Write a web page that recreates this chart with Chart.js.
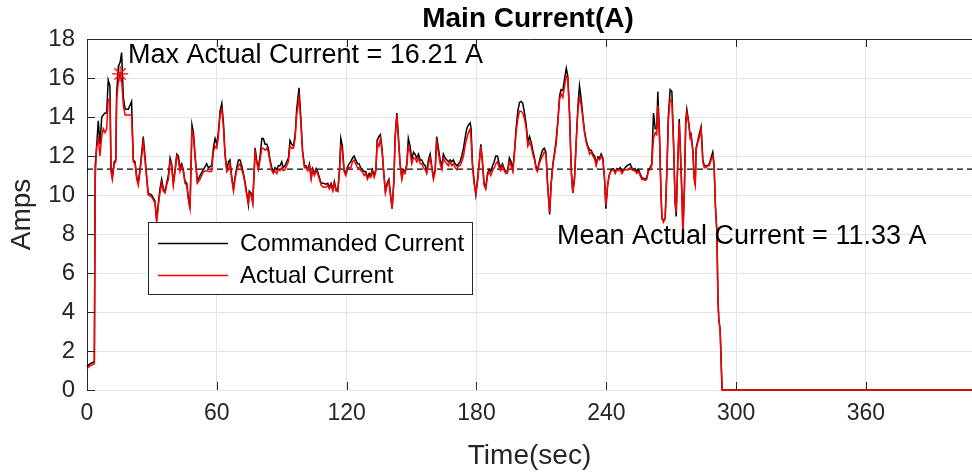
<!DOCTYPE html>
<html>
<head>
<meta charset="utf-8">
<script src="https://cdn.jsdelivr.net/npm/chart.js@4.4.1/dist/chart.umd.min.js"></script>
<style>
  html, body { margin: 0; padding: 0; background: #fff; }
  #wrap { width: 972px; height: 473px; }
</style>
</head>
<body>
<div id="wrap"><canvas id="grafico" width="972" height="473"></canvas></div>
<script>
// time in seconds
const tempo = [
  0, 1.5, 3.4, 3.8, 4.4, 5.2, 6.0, 6.8, 7.5, 8.3, 9.1, 9.8, 10.6, 11.1, 11.7, 12.6, 13.3, 13.7, 14.5, 15.3,
  16.0, 16.8, 17.6, 19.1, 20.6, 21.4, 22.2, 23.0, 23.7, 24.5, 25.3, 26.0, 26.8, 27.6, 28.3, 29.9, 31.4, 32.2, 33.0, 33.7,
  34.5, 35.3, 36.1, 36.8, 37.6, 38.4, 39.1, 39.9, 40.7, 41.5, 42.2, 43.0, 43.8, 44.5, 45.3, 46.1, 46.8, 47.6, 48.5, 49.2,
  49.9, 51.0, 52.2, 53.8, 55.3, 56.1, 57.6, 58.4, 59.2, 60.0, 60.7, 61.5, 62.3, 63.1, 63.8, 64.6, 65.4, 66.1, 66.9, 67.7,
  68.4, 69.2, 70.0, 70.7, 71.5, 72.3, 73.0, 73.8, 74.6, 75.0, 75.8, 76.6, 77.7, 78.4, 79.2, 80.0, 80.8, 81.5, 82.3, 83.1,
  83.8, 84.6, 85.4, 86.1, 86.9, 87.7, 88.4, 89.2, 90.0, 90.7, 91.5, 92.3, 93.1, 93.8, 94.6, 95.4, 96.2, 96.9, 98.0, 98.9,
  99.6, 100.5, 101.2, 102.0, 102.8, 103.6, 104.3, 105.1, 105.9, 106.6, 107.4, 108.2, 109.3, 110.4, 111.3, 112.0, 112.8, 113.6, 114.3, 115.1,
  115.9, 116.7, 117.3, 118.0, 118.8, 119.6, 120.3, 121.1, 121.9, 122.7, 123.4, 124.2, 125.0, 125.7, 126.5, 127.3, 128.1, 128.8, 129.6, 130.4,
  131.1, 131.9, 132.7, 133.5, 134.1, 134.9, 135.6, 136.4, 137.2, 137.9, 138.7, 139.5, 140.2, 141.0, 141.8, 142.4, 143.2, 143.9, 144.7, 145.5,
  146.2, 147.0, 147.8, 148.5, 149.3, 150.1, 150.9, 151.6, 152.4, 153.2, 154.0, 154.7, 155.5, 156.3, 157.0, 157.8, 158.6, 159.3, 160.1, 160.9,
  161.6, 162.4, 163.2, 164.0, 164.7, 165.5, 166.3, 167.0, 167.8, 168.6, 169.3, 170.1, 170.9, 171.7, 172.4, 173.2, 174.0, 174.7, 175.5, 176.3,
  177.1, 177.5, 178.1, 178.9, 179.7, 180.4, 181.2, 182.0, 182.7, 183.5, 184.3, 185.1, 185.8, 186.6, 187.4, 188.2, 188.9, 189.7, 190.5, 191.2,
  192.0, 192.8, 193.6, 194.3, 195.2, 196.0, 196.8, 197.6, 198.3, 199.1, 199.9, 200.6, 201.4, 202.2, 203.0, 203.7, 204.5, 205.3, 206.0, 206.8,
  207.6, 208.2, 209.0, 209.7, 210.5, 211.3, 212.1, 212.8, 213.8, 214.5, 215.3, 216.1, 216.8, 217.6, 218.4, 219.1, 219.9, 220.7, 221.5, 222.2,
  223.0, 223.8, 224.5, 225.3, 226.1, 226.9, 227.6, 228.4, 229.2, 229.9, 230.7, 231.5, 232.3, 233.0, 233.8, 234.6, 235.3, 236.1, 236.9, 237.6,
  238.4, 239.2, 239.8, 240.6, 241.3, 242.3, 243.3, 244.1, 244.9, 245.6, 246.4, 247.2, 248.0, 248.7, 249.5, 250.3, 251.0, 251.8, 252.6, 253.3,
  254.1, 254.9, 255.6, 256.4, 257.2, 258.0, 258.7, 259.5, 260.3, 261.0, 261.8, 262.6, 263.3, 263.8, 264.6, 265.2, 265.7, 266.4, 267.2, 268.0,
  268.7, 269.5, 270.3, 271.1, 271.8, 272.3, 272.9, 273.7, 274.3, 275.0, 275.4, 276.1, 276.7, 277.2, 278.0, 278.8, 279.2, 280.0, 280.6, 281.1,
  281.5, 282.3, 283.1, 283.8, 284.6, 285.3, 286.1, 286.9, 287.6, 288.4, 289.2, 289.8, 290.4, 291.1, 291.6, 292.0, 292.6, 293.2, 293.5, 409
];

// actual current (red)
const corrente = [
  1.1, 1.25, 1.35, 10.8, 12.4, 12.9, 12.0, 13.0, 13.4, 13.2, 13.4, 14.9, 14.9, 11.2, 10.8, 11.6, 11.7, 14.9, 15.8, 16.21,
  15.9, 14.6, 14.1, 14.1, 14.1, 11.7, 11.6, 10.8, 10.5, 11.2, 12.0, 12.7, 11.8, 10.8, 10.0, 9.9, 9.6, 8.6, 9.5, 10.1,
  10.6, 10.2, 10.1, 10.5, 10.8, 11.7, 11.5, 10.5, 11.2, 12.0, 11.8, 11.2, 11.5, 11.2, 10.6, 10.5, 9.8, 9.3, 13.3, 13.0,
  12.0, 10.6, 10.8, 11.2, 11.25, 11.2, 11.2, 12.2, 12.5, 12.4, 13.0, 14.1, 14.4, 13.4, 12.0, 11.2, 11.3, 11.6, 10.8, 10.2,
  10.8, 11.25, 11.5, 11.6, 11.3, 11.0, 10.6, 10.0, 9.6, 10.1, 10.0, 9.6, 12.2, 11.7, 11.3, 11.8, 12.4, 12.4, 12.3, 12.4,
  12.2, 11.7, 11.25, 11.1, 11.25, 11.1, 11.3, 11.25, 11.4, 11.25, 11.3, 11.5, 11.7, 12.5, 12.4, 12.4, 12.9, 14.1, 15.0, 13.6,
  12.2, 11.4, 11.4, 11.25, 11.5, 10.8, 11.25, 11.0, 11.25, 11.1, 10.8, 10.5, 10.4, 10.4, 10.5, 10.3, 10.5, 10.2, 10.6, 10.2,
  10.2, 11.2, 12.5, 12.3, 11.2, 11.0, 11.25, 11.4, 11.4, 11.7, 11.8, 11.6, 11.4, 11.4, 11.25, 11.2, 11.0, 11.1, 10.8, 11.0,
  10.9, 11.2, 10.9, 11.2, 12.7, 12.5, 12.9, 12.2, 11.0, 10.1, 10.5, 10.7, 10.05, 9.3, 10.6, 12.9, 14.1, 12.9, 11.5, 10.8,
  11.2, 11.1, 11.5, 12.5, 12.2, 11.6, 11.9, 11.9, 11.7, 11.9, 11.6, 11.6, 11.4, 11.3, 11.1, 11.6, 11.9, 11.4, 10.8, 11.2,
  12.7, 12.2, 11.6, 11.3, 11.9, 11.7, 11.6, 11.5, 11.7, 11.5, 11.6, 11.4, 11.3, 11.5, 11.5, 11.7, 12.0, 12.5, 12.9, 13.2,
  13.4, 12.9, 11.5, 10.6, 10.1, 10.6, 11.5, 12.5, 11.7, 10.5, 10.3, 11.0, 11.2, 11.0, 11.25, 11.4, 11.6, 11.7, 11.4, 11.25,
  11.5, 11.25, 11.1, 11.1, 11.7, 11.5, 11.2, 12.2, 13.2, 13.9, 14.3, 14.3, 14.2, 13.9, 13.4, 12.5, 12.7, 12.5, 12.1, 11.8,
  11.3, 11.2, 11.6, 11.8, 12.0, 12.2, 12.1, 10.6, 9.1, 10.5, 11.5, 12.1, 12.6, 13.7, 14.9, 15.2, 15.0, 15.6, 16.1, 16.0,
  14.1, 11.2, 10.1, 10.8, 12.7, 14.4, 15.0, 14.6, 13.9, 13.2, 12.7, 12.4, 12.1, 12.2, 12.0, 11.85, 11.5, 11.85, 11.8, 12.0,
  11.8, 10.8, 9.45, 10.5, 11.0, 11.25, 11.3, 11.1, 11.3, 11.25, 11.3, 11.1, 11.25, 11.3, 11.3, 11.3, 11.4, 11.3, 11.25, 11.25,
  11.1, 11.2, 11.0, 10.8, 10.8, 10.75, 10.8, 11.25, 11.3, 11.5, 12.9, 13.2, 13.1, 14.6, 12.9, 10.3, 8.8, 8.6, 8.8, 11.2,
  13.9, 14.9, 14.75, 12.5, 9.6, 9.1, 11.2, 13.7, 12.0, 9.8, 8.0, 10.3, 13.6, 14.2, 13.7, 12.9, 13.0, 12.2, 10.8, 10.5,
  12.3, 12.7, 13.0, 13.4, 11.7, 11.4, 11.4, 11.5, 11.5, 11.8, 12.0, 11.5, 9.45, 8.1, 4.6, 3.6, 3.1, 1.0, 0, 0
];

// commanded current (black)
const comandada = [
  1.2, 1.35, 1.45, 11.5, 12.4, 13.8, 12.6, 14.0, 14.1, 14.2, 14.2, 15.9, 15.6, 11.4, 10.9, 11.7, 11.8, 15.2, 16.6, 16.8,
  17.3, 15.0, 14.4, 14.4, 14.8, 11.8, 11.7, 10.9, 10.7, 11.3, 12.2, 13.0, 12.0, 10.9, 10.1, 10.0, 9.7, 8.7, 9.6, 10.3,
  10.8, 10.3, 10.2, 10.6, 11.0, 11.9, 11.6, 10.6, 11.3, 12.1, 12.0, 11.4, 11.6, 11.3, 10.7, 10.6, 9.9, 9.3, 13.6, 13.2,
  12.1, 10.7, 11.0, 11.3, 11.6, 11.4, 11.5, 12.4, 12.9, 12.6, 13.2, 14.3, 14.7, 13.6, 12.1, 11.3, 11.7, 11.8, 10.9, 10.3,
  10.9, 11.4, 11.8, 11.8, 11.5, 11.1, 10.7, 10.1, 9.5, 10.2, 10.1, 9.6, 12.4, 11.8, 11.4, 12.0, 12.9, 12.9, 12.6, 12.6,
  12.4, 11.8, 11.4, 11.2, 11.4, 11.3, 11.5, 11.5, 11.7, 11.4, 11.5, 11.7, 11.9, 12.8, 12.6, 12.5, 13.1, 14.4, 15.5, 13.8,
  12.3, 11.5, 11.5, 11.3, 11.6, 10.9, 11.35, 11.1, 11.35, 11.2, 10.9, 10.6, 10.6, 10.55, 10.6, 10.4, 10.6, 10.3, 10.7, 10.3,
  10.2, 11.3, 12.9, 12.5, 11.3, 11.1, 11.4, 11.6, 11.7, 11.9, 12.0, 11.8, 11.6, 11.6, 11.4, 11.3, 11.2, 11.2, 10.9, 11.1,
  11.0, 11.3, 11.0, 11.3, 12.8, 13.0, 13.1, 12.3, 11.1, 10.2, 10.6, 10.8, 10.1, 9.3, 10.7, 13.0, 14.2, 13.0, 11.6, 10.9,
  11.3, 11.2, 11.6, 12.9, 12.5, 11.8, 12.2, 12.1, 11.9, 12.1, 11.8, 11.8, 11.6, 11.5, 11.2, 11.8, 12.1, 11.5, 10.9, 11.3,
  13.0, 12.4, 11.8, 11.5, 12.1, 11.9, 11.8, 11.7, 11.8, 11.7, 11.8, 11.6, 11.5, 11.6, 11.7, 12.0, 12.4, 12.9, 13.4, 13.6,
  13.7, 13.4, 11.7, 10.7, 10.0, 10.7, 11.6, 12.6, 11.8, 10.6, 10.4, 11.1, 11.3, 11.2, 11.5, 11.7, 12.0, 12.0, 11.6, 11.4,
  11.6, 11.35, 11.2, 11.2, 11.9, 11.7, 11.3, 12.3, 13.4, 14.3, 14.75, 14.8, 14.7, 14.2, 13.6, 12.7, 13.0, 12.7, 12.3, 11.9,
  11.4, 11.3, 11.7, 12.0, 12.3, 12.4, 12.2, 10.7, 9.0, 10.6, 11.6, 12.2, 12.8, 13.8, 15.1, 15.4, 15.35, 15.95, 16.5, 16.1,
  14.2, 11.3, 10.1, 10.9, 12.8, 14.6, 15.6, 14.9, 14.0, 13.3, 12.8, 12.5, 12.3, 12.3, 12.1, 12.0, 11.6, 11.95, 11.9, 12.1,
  11.9, 10.8, 9.3, 10.5, 11.0, 11.3, 11.35, 11.2, 11.35, 11.3, 11.4, 11.2, 11.3, 11.4, 11.5, 11.55, 11.6, 11.4, 11.3, 11.35,
  11.2, 11.3, 11.1, 10.9, 10.85, 10.8, 10.9, 11.3, 11.4, 11.6, 14.2, 13.4, 13.4, 15.3, 13.0, 10.4, 8.8, 8.7, 8.8, 11.3,
  14.1, 15.4, 15.3, 12.6, 9.6, 8.9, 11.3, 13.9, 12.1, 9.8, 8.0, 10.4, 13.8, 14.4, 13.8, 13.0, 13.1, 12.3, 10.9, 10.5,
  12.4, 12.8, 13.2, 13.5, 11.8, 11.5, 11.5, 11.5, 11.6, 11.9, 12.2, 11.6, 9.5, 8.1, 4.6, 3.6, 3.1, 1.0, 0, 0
];

const mediaAtual = 11.33;
const maxAtual = 16.21;
const tempoMax = 15.3;
const ticksX = [0, 60, 120, 180, 240, 300, 360];
const ticksY = [0, 2, 4, 6, 8, 10, 12, 14, 16, 18];

const fonte = "'Liberation Sans', Arial, Helvetica, sans-serif";
const cinza = "#262626";

const pontos = (xs, ys) => xs.map((x, i) => ({ x: x, y: ys[i] }));

// extra drawing: title, top border, inward ticks, notes, legend
const extras = {
  id: "extras",
  afterDraw(chart) {
    const ctx = chart.ctx;
    const area = chart.chartArea;
    const sx = chart.scales.x;
    const sy = chart.scales.y;
    ctx.save();

    ctx.strokeStyle = cinza;
    ctx.lineWidth = 1;
    ctx.beginPath();
    ctx.moveTo(area.left, area.top + 0.5);
    ctx.lineTo(area.right, area.top + 0.5);
    ticksX.forEach(v => {
      const px = Math.round(sx.getPixelForValue(v)) + 0.5;
      ctx.moveTo(px, area.bottom);
      ctx.lineTo(px, area.bottom - 8);
      ctx.moveTo(px, area.top);
      ctx.lineTo(px, area.top + 8);
    });
    ticksY.forEach(v => {
      const py = Math.round(sy.getPixelForValue(v)) + 0.5;
      ctx.moveTo(area.left, py);
      ctx.lineTo(area.left + 8, py);
    });
    ctx.stroke();

    ctx.fillStyle = "#000";
    ctx.textBaseline = "middle";
    ctx.textAlign = "center";
    ctx.font = "bold 28px " + fonte;
    ctx.fillText("Main Current(A)", 528, 19);

    ctx.textAlign = "left";
    ctx.font = "27px " + fonte;
    ctx.fillText("Max Actual Current = " + maxAtual.toFixed(2) + " A", 128, 56);
    ctx.fillText("Mean Actual Current = " + mediaAtual.toFixed(2) + " A", 557, 237);

    // legend
    ctx.fillStyle = "#fff";
    ctx.fillRect(148, 222, 324, 72);
    ctx.lineWidth = 1;
    ctx.strokeStyle = cinza;
    ctx.strokeRect(148.5, 222.5, 324, 72);
    ctx.lineWidth = 1.5;
    ctx.strokeStyle = "#000";
    ctx.beginPath();
    ctx.moveTo(158, 243.5);
    ctx.lineTo(228, 243.5);
    ctx.stroke();
    ctx.strokeStyle = "#ff0000";
    ctx.beginPath();
    ctx.moveTo(158, 275.5);
    ctx.lineTo(228, 275.5);
    ctx.stroke();
    ctx.fillStyle = "#000";
    ctx.font = "24px " + fonte;
    ctx.fillText("Commanded Current", 240, 244);
    ctx.fillText("Actual Current", 240, 276);

    ctx.restore();
  }
};

new Chart(document.getElementById("grafico"), {
  type: "line",
  data: {
    datasets: [
      {
        label: "Max",
        data: [{ x: tempoMax, y: maxAtual }],
        showLine: false,
        pointStyle: "star",
        pointRadius: 8,
        borderColor: "#ff0000",
        borderWidth: 1.2,
        order: 0
      },
      {
        label: "Actual Current",
        data: pontos(tempo, corrente),
        borderColor: "#ff0000",
        borderWidth: 1.5,
        pointRadius: 0,
        tension: 0,
        clip: 3,
        order: 1
      },
      {
        label: "Commanded Current",
        data: pontos(tempo, comandada),
        borderColor: "#000000",
        borderWidth: 1.5,
        pointRadius: 0,
        tension: 0,
        clip: 3,
        order: 2
      },
      {
        label: "Mean",
        data: [{ x: 0, y: mediaAtual }, { x: 409, y: mediaAtual }],
        borderColor: "#000000",
        borderWidth: 1.2,
        borderDash: [6, 4],
        pointRadius: 0,
        order: 3
      }
    ]
  },
  options: {
    responsive: false,
    animation: false,
    layout: { autoPadding: false, padding: { top: 39, right: 0, left: 0, bottom: 0 } },
    plugins: {
      legend: { display: false },
      title: { display: false },
      tooltip: { enabled: false }
    },
    scales: {
      x: {
        type: "linear",
        min: 0,
        max: 409,
        afterFit: s => { s.height = 83; s.paddingLeft = 0; s.paddingRight = 0; },
        ticks: {
          stepSize: 60,
          includeBounds: false,
          autoSkip: false,
          maxRotation: 0,
          padding: 10,
          color: cinza,
          font: { family: fonte, size: 23 }
        },
        grid: { color: "#e4e4e4", drawTicks: false },
        border: { color: cinza, width: 1, z: -1 },
        title: {
          display: true,
          text: "Time(sec)",
          color: cinza,
          font: { family: fonte, size: 28 },
          padding: { top: 0, bottom: 0 }
        }
      },
      y: {
        min: 0,
        max: 18,
        afterFit: s => { s.width = 87; s.paddingTop = 0; s.paddingBottom = 0; },
        ticks: {
          stepSize: 2,
          padding: 12,
          color: cinza,
          font: { family: fonte, size: 24 }
        },
        grid: { color: "#e4e4e4", drawTicks: false },
        border: { color: cinza, width: 1 },
        title: {
          display: true,
          text: "Amps",
          color: cinza,
          font: { family: fonte, size: 28 },
          padding: { top: 5, bottom: 4 }
        }
      }
    }
  },
  plugins: [extras]
});
</script>
</body>
</html>
